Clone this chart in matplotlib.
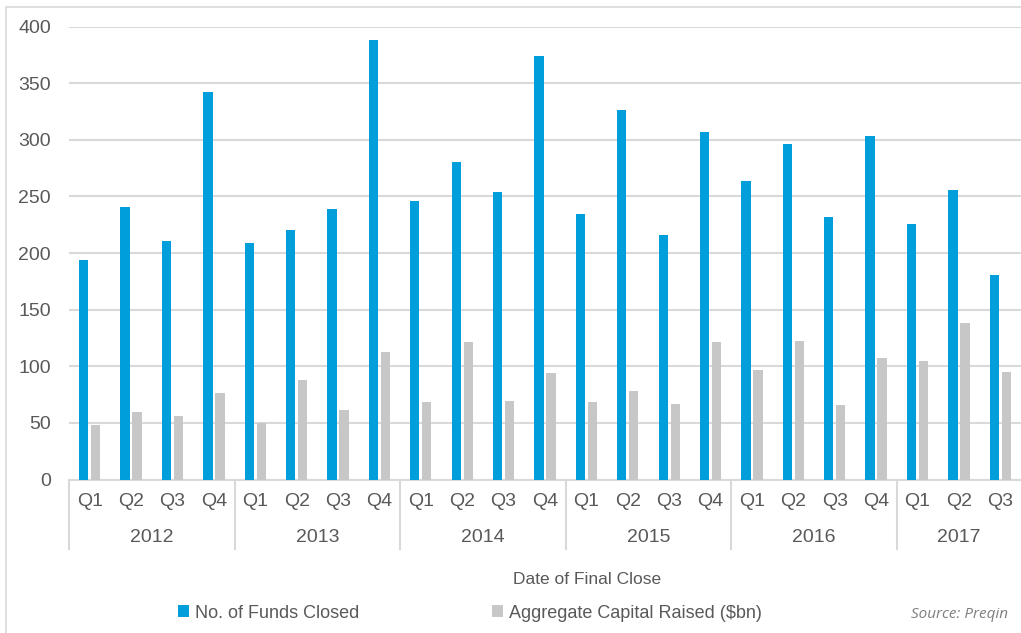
import numpy as np
import matplotlib
matplotlib.use("Agg")
import matplotlib.pyplot as plt
from matplotlib.patches import Patch, Rectangle
from matplotlib.transforms import blended_transform_factory

# Daten
years = ["2012", "2013", "2014", "2015", "2016", "2017"]
quarters_per_year = [4, 4, 4, 4, 4, 3]
quarter_labels = ["Q1", "Q2", "Q3", "Q4"] * 5 + ["Q1", "Q2", "Q3"]

funds_closed = [194, 241, 211, 342,
                209, 220, 239, 388,
                246, 280, 254, 374,
                234, 326, 216, 307,
                264, 296, 232, 303,
                226, 256, 181]
capital_raised = [48, 60, 56, 76,
                  50, 88, 61, 113,
                  68, 121, 69, 94,
                  68, 78, 67, 121,
                  97, 122, 66, 107,
                  105, 138, 95]
y_ticks = [0, 50, 100, 150, 200, 250, 300, 350, 400]

BLUE = "#009FDB"
GREY = "#C6C7C6"
TEXT = "#595959"
LINE = "#D9D9D9"

plt.rcParams["font.family"] = ["Liberation Sans", "DejaVu Sans"]

W, H = 1021, 633
fig = plt.figure(figsize=(W / 100, H / 100), dpi=100)

# Rahmen um das Diagramm
fig.patches.append(Rectangle((6 / W, -0.1), 1.2, 1 - 7 / H + 0.1,
                             transform=fig.transFigure, fill=False,
                             edgecolor=LINE, linewidth=1.2))

ax = fig.add_axes([69 / W, 1 - 479.5 / H, (1021 - 69) / W, (479.5 - 26.5) / H])

x = np.arange(len(funds_closed))
bw = 0.225
off = 0.145
ax.bar(x - off, funds_closed, width=bw, color=BLUE, linewidth=0, zorder=3)
ax.bar(x + off, capital_raised, width=bw, color=GREY, linewidth=0, zorder=3)

ax.set_xlim(-0.5, len(x) - 0.5)
ax.set_ylim(0, 400)
ax.set_yticks(y_ticks)
ax.yaxis.grid(True, color=LINE, linewidth=1.5, zorder=0)
ax.set_axisbelow(True)

for side in ["top", "right", "left"]:
    ax.spines[side].set_visible(False)
ax.spines["bottom"].set_color(LINE)
ax.spines["bottom"].set_linewidth(1.5)

ax.set_xticks(x)
ax.set_xticklabels(quarter_labels)
ax.tick_params(axis="both", length=0, labelsize=14, colors=TEXT)
ax.tick_params(axis="x", pad=9.5)
ax.tick_params(axis="y", pad=13)

# Jahresgruppen unter der Achse
trans = blended_transform_factory(ax.transData, ax.transAxes)
axes_h = (479.5 - 26.5)
start = 0
for year, n in zip(years, quarters_per_year):
    ax.plot([start - 0.5, start - 0.5], [0, -(549 - 479.5) / axes_h],
            transform=trans, color=LINE, linewidth=1.5, clip_on=False)
    ax.text(start + (n - 1) / 2, -(537 - 479.5) / axes_h, year,
            transform=trans, ha="center", va="center",
            fontsize=14, color=TEXT)
    start += n

fig.text(587 / W, 1 - 580 / H, "Date of Final Close", ha="center", va="center",
         fontsize=12.5, color=TEXT)

handles = [Patch(facecolor=BLUE, edgecolor="none"),
           Patch(facecolor=GREY, edgecolor="none")]
fig.legend(handles, ["No. of Funds Closed", "Aggregate Capital Raised ($bn)"],
           loc="center", bbox_to_anchor=(470 / W, 1 - 613 / H), ncol=2,
           frameon=False, fontsize=13, labelcolor=TEXT,
           handlelength=0.6, handleheight=0.6, handletextpad=0.3,
           columnspacing=7.4)

fig.text(1008 / W, 1 - 615 / H, "Source: Preqin", ha="right", va="center",
         fontsize=11, color="#7F7F7F", style="italic", family="Open Sans")

fig.savefig("out.png", dpi=100)
